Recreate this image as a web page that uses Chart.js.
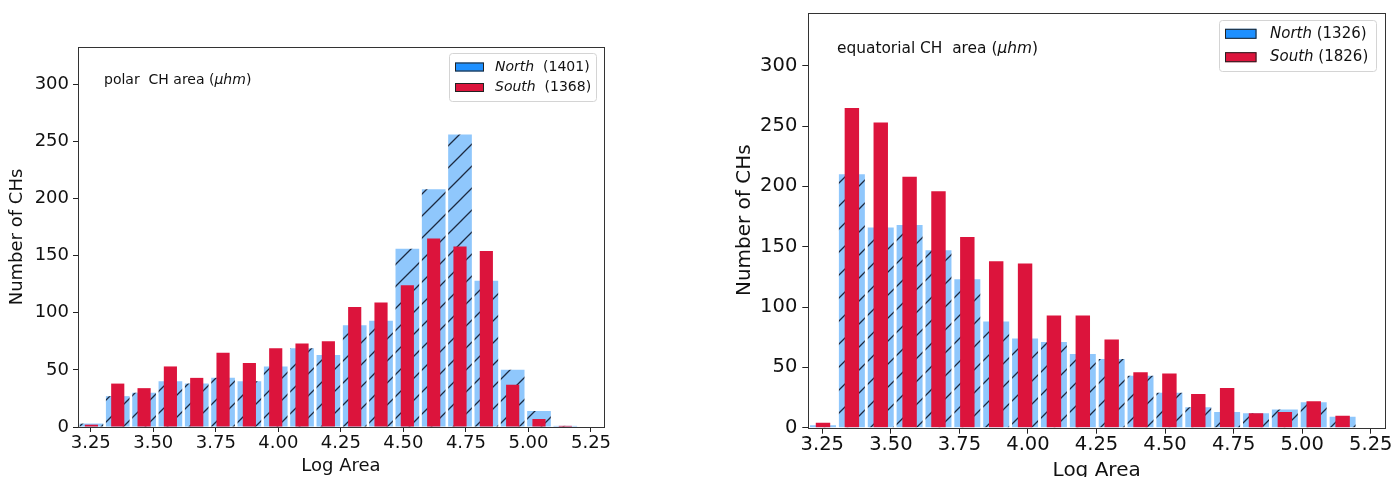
<!DOCTYPE html>
<html>
<head>
<meta charset="utf-8">
<script src="https://cdn.jsdelivr.net/npm/chart.js@4.4.0/dist/chart.umd.min.js"></script>
<style>
html,body{margin:0;padding:0;background:#fff;width:1392px;height:477px;overflow:hidden;}
#c1{position:absolute;left:0;top:0;}
#c2{position:absolute;left:700px;top:0;}
</style>
</head>
<body>
<canvas id="c1" width="700" height="477"></canvas>
<canvas id="c2" width="692" height="483"></canvas>
<script>
// ---- data ----
const binCenters = [3.2526, 3.3579, 3.4632, 3.5684, 3.6737, 3.7789, 3.8842, 3.9895, 4.0947, 4.2000,
                    4.3053, 4.4105, 4.5158, 4.6211, 4.7263, 4.8316, 4.9368, 5.0421, 5.1474];
const xTicks = [3.25, 3.5, 3.75, 4.0, 4.25, 4.5, 4.75, 5.0, 5.25];
const xTickLabels = ['3.25', '3.50', '3.75', '4.00', '4.25', '4.50', '4.75', '5.00', '5.25'];
const yTicks = [0, 50, 100, 150, 200, 250, 300];
const yTickLabels = ['0', '50', '100', '150', '200', '250', '300'];
const seriesNames = ['North', 'South'];

const polarNorth = [3, 27, 30, 40, 38, 43, 40, 53, 69, 63, 89, 93, 156, 208, 256, 128, 50, 14, 1];
const polarSouth = [2, 38, 34, 53, 43, 65, 56, 69, 73, 75, 105, 109, 124, 165, 158, 154, 37, 7, 1];
const polarCounts = [1401, 1368];

const equatorialNorth = [2, 210, 166, 168, 147, 123, 88, 74, 71, 61, 57, 43, 29, 17, 13, 12, 15, 21, 9];
const equatorialSouth = [4, 265, 253, 208, 196, 158, 138, 136, 93, 93, 73, 46, 45, 28, 33, 12, 13, 22, 10];
const equatorialCounts = [1326, 1826];

const polarNote = [{t: 'polar  CH area ('}, {t: 'μhm', italic: true}, {t: ')'}];
const equatorialNote = [{t: 'equatorial CH  area ('}, {t: 'μhm', italic: true}, {t: ')'}];
const xTitle = 'Log Area';
const yTitle = 'Number of CHs';

// ---- styles ----
const FONT = '"DejaVu Sans", "Liberation Sans", sans-serif';
const TEXT = '#111';
const LEGEND_COLORS = ['#1E90FF', '#DC143C'];

function makeHatch(ctx, size) {
  const c = document.createElement('canvas');
  c.width = size; c.height = size;
  const g = c.getContext('2d');
  g.fillStyle = 'rgb(143,199,252)';
  g.fillRect(0, 0, size, size);
  g.strokeStyle = '#1c2940';
  g.lineWidth = 1.3;
  g.beginPath();
  g.moveTo(0, size); g.lineTo(size, 0);
  g.moveTo(-size / 2, size / 2); g.lineTo(size / 2, -size / 2);
  g.moveTo(size / 2, size * 1.5); g.lineTo(size * 1.5, size / 2);
  g.stroke();
  return ctx.createPattern(c, 'repeat');
}

function drawParts(ctx, parts, x, y, size) {
  for (const p of parts) {
    ctx.font = (p.italic ? 'italic ' : '') + size + 'px ' + FONT;
    ctx.fillText(p.t, x, y);
    x += ctx.measureText(p.t).width;
  }
}

const decor = {
  id: 'decor',
  afterDatasetsDraw(chart) {
    const {ctx, chartArea: a} = chart;
    ctx.save();
    ctx.strokeStyle = '#333';
    ctx.lineWidth = 1;
    ctx.strokeRect(Math.round(a.left) + 0.5, Math.round(a.top) + 0.5,
                   Math.round(a.right - a.left), Math.round(a.bottom - a.top));
    ctx.restore();
  },
  afterDraw(chart, args, o) {
    const ctx = chart.ctx;
    ctx.save();
    ctx.fillStyle = TEXT;
    ctx.textBaseline = 'middle';
    ctx.textAlign = 'left';
    drawParts(ctx, o.note, o.noteX, o.noteY, o.noteSize);
    // legend box
    const L = o.legend;
    const r = 3;
    ctx.beginPath();
    ctx.moveTo(L.x + r, L.y);
    ctx.lineTo(L.x + L.w - r, L.y);
    ctx.quadraticCurveTo(L.x + L.w, L.y, L.x + L.w, L.y + r);
    ctx.lineTo(L.x + L.w, L.y + L.h - r);
    ctx.quadraticCurveTo(L.x + L.w, L.y + L.h, L.x + L.w - r, L.y + L.h);
    ctx.lineTo(L.x + r, L.y + L.h);
    ctx.quadraticCurveTo(L.x, L.y + L.h, L.x, L.y + L.h - r);
    ctx.lineTo(L.x, L.y + r);
    ctx.quadraticCurveTo(L.x, L.y, L.x + r, L.y);
    ctx.closePath();
    ctx.fillStyle = 'rgba(255,255,255,0.9)';
    ctx.fill();
    ctx.strokeStyle = '#d4d4d4';
    ctx.lineWidth = 1;
    ctx.stroke();
    chart.data.datasets.forEach((ds, i) => {
      const cy = L.rows[i];
      ctx.fillStyle = LEGEND_COLORS[i];
      ctx.fillRect(L.px, cy - L.ph / 2, L.pw, L.ph);
      ctx.strokeStyle = '#222';
      ctx.lineWidth = 1;
      ctx.strokeRect(L.px + 0.5, cy - L.ph / 2 + 0.5, L.pw - 1, L.ph - 1);
      ctx.fillStyle = TEXT;
      drawParts(ctx, [{t: ds.label, italic: true}, {t: L.sep + '(' + o.counts[i] + ')'}], L.tx, cy, L.size);
    });
    ctx.restore();
  }
};

function buildChart(id, north, south, counts, note, cfg) {
  const canvas = document.getElementById(id);
  const ctx = canvas.getContext('2d');
  const hatch = makeHatch(ctx, cfg.hatch);
  return new Chart(ctx, {
    type: 'bar',
    data: {
      datasets: [
        {label: seriesNames[0], data: binCenters.map((x, i) => ({x: x, y: north[i]})),
         backgroundColor: hatch, borderWidth: 0, barPercentage: 0.9, categoryPercentage: 1,
         grouped: false, order: 2},
        {label: seriesNames[1], data: binCenters.map((x, i) => ({x: x, y: south[i]})),
         backgroundColor: '#DC143C', borderWidth: 0, barPercentage: 0.5, categoryPercentage: 1,
         grouped: false, order: 1}
      ]
    },
    options: {
      responsive: false,
      animation: false,
      devicePixelRatio: 1,
      events: [],
      layout: {padding: cfg.padding},
      plugins: {
        legend: {display: false},
        tooltip: {enabled: false},
        decor: {note: note, noteX: cfg.noteX, noteY: cfg.noteY, noteSize: cfg.noteSize,
                legend: cfg.legend, counts: counts}
      },
      scales: {
        x: {
          type: 'linear', min: 3.199, max: 5.302, offset: false,
          afterBuildTicks: s => { s.ticks = xTicks.map(v => ({value: v})); },
          afterFit: s => { s.height = cfg.xHeight; s.paddingLeft = 0; s.paddingRight = 0; },
          ticks: {callback: (v, i) => xTickLabels[i], autoSkip: false, maxRotation: 0,
                  font: {family: FONT, size: cfg.tickSize}, color: TEXT, padding: cfg.xTickPad},
          grid: {display: true, drawOnChartArea: false, drawTicks: true, tickLength: cfg.tickLen,
                 tickColor: '#222', offset: false},
          border: {display: false},
          title: {display: true, text: xTitle, color: TEXT,
                  font: {family: FONT, size: cfg.titleSize}, padding: {top: 0, bottom: cfg.xTitlePad}}
        },
        y: {
          type: 'linear', min: 0, max: cfg.yMax,
          afterBuildTicks: s => { s.ticks = yTicks.map(v => ({value: v})); },
          afterFit: s => { s.width = cfg.yWidth; s.paddingTop = 0; s.paddingBottom = 0; },
          ticks: {callback: (v, i) => yTickLabels[i], font: {family: FONT, size: cfg.tickSize},
                  color: TEXT, padding: cfg.yTickPad},
          grid: {display: true, drawOnChartArea: false, drawTicks: true, tickLength: cfg.tickLen,
                 tickColor: '#222'},
          border: {display: false},
          title: {display: true, text: yTitle, color: TEXT,
                  font: {family: FONT, size: cfg.titleSize}, padding: {top: cfg.yTitlePad, bottom: 0}}
        }
      }
    },
    plugins: [decor]
  });
}

buildChart('c1', polarNorth, polarSouth, polarCounts, polarNote, {
  hatch: 22,
  padding: {left: 0, top: 47, right: 96, bottom: 0},
  yWidth: 78, xHeight: 50, yMax: 332.6,
  tickSize: 18, titleSize: 18, tickLen: 5, yTickPad: 4, xTickPad: 1,
  yTitlePad: 7, xTitlePad: 0,
  noteX: 104, noteY: 80, noteSize: 14,
  legend: {x: 449.5, y: 53.5, w: 147, h: 48, px: 455, pw: 29, ph: 9, rows: [67, 87.5],
           tx: 495, size: 14, sep: '  '}
});

buildChart('c2', equatorialNorth, equatorialSouth, equatorialCounts, equatorialNote, {
  hatch: 23,
  padding: {left: 0, top: 12.7, right: 7, bottom: 0},
  yWidth: 108.3, xHeight: 55.3, yMax: 343.9,
  tickSize: 19.5, titleSize: 20, tickLen: 6, yTickPad: 5, xTickPad: 0,
  yTitlePad: 33, xTitlePad: 0,
  noteX: 137, noteY: 49, noteSize: 15.4,
  legend: {x: 519.5, y: 20.5, w: 157, h: 51, px: 525, pw: 31.5, ph: 10, rows: [33.8, 57.2],
           tx: 570, size: 15, sep: ' '}
});
</script>
</body>
</html>
